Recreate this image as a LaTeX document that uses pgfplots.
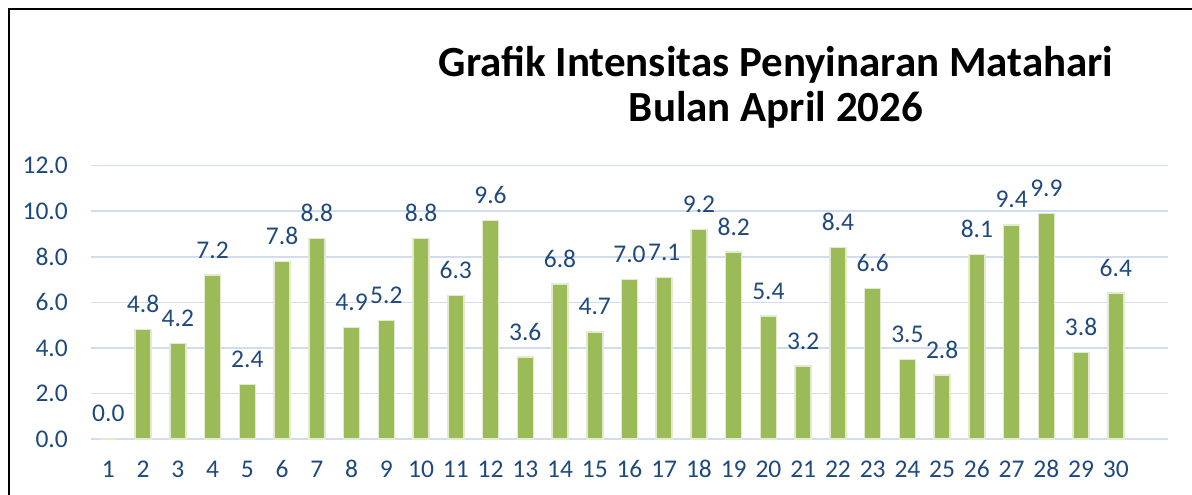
\documentclass[border=0pt]{standalone}
\usepackage{pgfplots}
\pgfplotsset{compat=1.18}
\usepackage{fontspec}
\setmainfont{Carlito}
\definecolor{barg}{HTML}{9BBB59}
\definecolor{barglow}{HTML}{E2EAD0}
\definecolor{txtb}{HTML}{1F497D}
\definecolor{gridb}{HTML}{D0DDEE}
\begin{document}
\begin{tikzpicture}[x=1pt,y=1pt]
\path[use as bounding box] (0,0) rectangle (1192,495);
\draw[line width=2pt,black] (9,0) -- (9,486) -- (1192,486);
\node[font=\bfseries\fontsize{43}{50}\selectfont, anchor=base] at (776,418) {Grafik Intensitas Penyinaran Matahari};
\node[font=\bfseries\fontsize{43}{50}\selectfont, anchor=base] at (776,373) {Bulan April 2026};
\begin{axis}[
  at={(91pt,56pt)}, anchor=south west,
  scale only axis, width=1077pt, height=273.3pt,
  xmin=0.5, xmax=31.5, ymin=0, ymax=12,
  xtick={1,...,30}, ytick={0,2,...,12},
  major tick length=0pt,
  axis line style={draw=none},
  ymajorgrids, grid style={gridb, line width=1.5pt},
  /pgf/number format/assume math mode=true,
  yticklabel={\pgfmathprintnumber[fixed,fixed zerofill,precision=1]{\tick}},
  ticklabel style={font=\fontsize{25.5}{30}\selectfont, text=txtb, inner sep=0pt},
  xticklabel style={anchor=base, yshift=-39pt},
  yticklabel style={anchor=east, xshift=-23pt},
  clip=false,
]
\addplot[ybar, bar width=16pt, fill=barg, draw=barglow, line width=1.5pt,
  nodes near coords={\pgfmathprintnumber[fixed,fixed zerofill,precision=1,assume math mode=true]{\pgfplotspointmeta}},
  every node near coord/.append style={font=\fontsize{25.5}{30}\selectfont, text=txtb, anchor=base, yshift=17pt, inner sep=0pt}
] coordinates {
(1,0.0) (2,4.8) (3,4.2) (4,7.2) (5,2.4) (6,7.8) (7,8.8) (8,4.9) (9,5.2) (10,8.8)
(11,6.3) (12,9.6) (13,3.6) (14,6.8) (15,4.7) (16,7.0) (17,7.1) (18,9.2) (19,8.2) (20,5.4)
(21,3.2) (22,8.4) (23,6.6) (24,3.5) (25,2.8) (26,8.1) (27,9.4) (28,9.9) (29,3.8) (30,6.4)
};
\end{axis}
\end{tikzpicture}
\end{document}
